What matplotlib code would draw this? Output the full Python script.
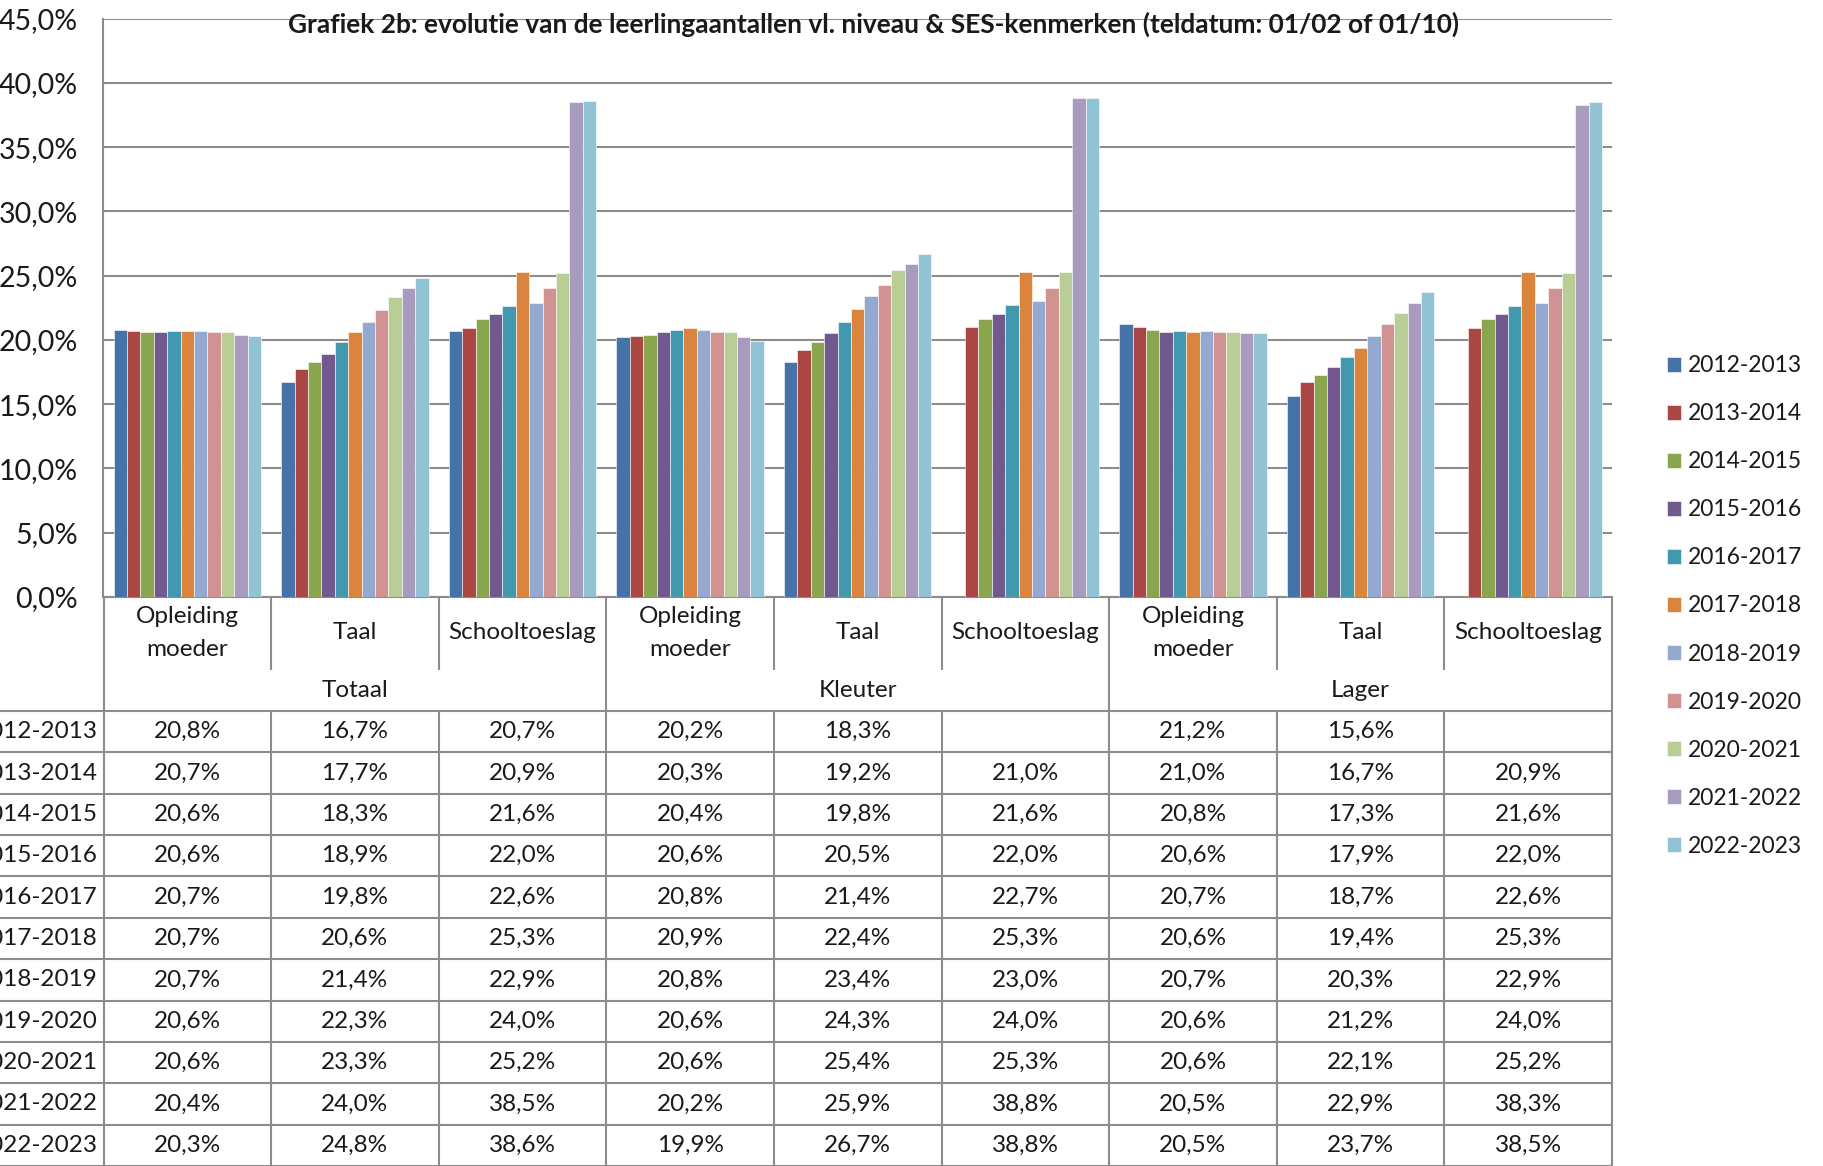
import numpy as np
import matplotlib
matplotlib.use("Agg")
import matplotlib.pyplot as plt
from matplotlib.lines import Line2D

plt.rcParams['font.family'] = ['Lato', 'DejaVu Sans']

# ---------------- data ----------------
title = "Grafiek 2b: evolutie van de leerlingaantallen vl. niveau & SES-kenmerken (teldatum: 01/02 of 01/10)"
categories = ["Opleiding\nmoeder", "Taal", "Schooltoeslag"] * 3
groups = ["Totaal", "Kleuter", "Lager"]
seasons = ["2012-2013", "2013-2014", "2014-2015", "2015-2016", "2016-2017", "2017-2018",
           "2018-2019", "2019-2020", "2020-2021", "2021-2022", "2022-2023"]
nan = np.nan
v2012 = [20.8, 16.7, 20.7, 20.2, 18.3, nan, 21.2, 15.6, nan]
v2013 = [20.7, 17.7, 20.9, 20.3, 19.2, 21.0, 21.0, 16.7, 20.9]
v2014 = [20.6, 18.3, 21.6, 20.4, 19.8, 21.6, 20.8, 17.3, 21.6]
v2015 = [20.6, 18.9, 22.0, 20.6, 20.5, 22.0, 20.6, 17.9, 22.0]
v2016 = [20.7, 19.8, 22.6, 20.8, 21.4, 22.7, 20.7, 18.7, 22.6]
v2017 = [20.7, 20.6, 25.3, 20.9, 22.4, 25.3, 20.6, 19.4, 25.3]
v2018 = [20.7, 21.4, 22.9, 20.8, 23.4, 23.0, 20.7, 20.3, 22.9]
v2019 = [20.6, 22.3, 24.0, 20.6, 24.3, 24.0, 20.6, 21.2, 24.0]
v2020 = [20.6, 23.3, 25.2, 20.6, 25.4, 25.3, 20.6, 22.1, 25.2]
v2021 = [20.4, 24.0, 38.5, 20.2, 25.9, 38.8, 20.5, 22.9, 38.3]
v2022 = [20.3, 24.8, 38.6, 19.9, 26.7, 38.8, 20.5, 23.7, 38.5]
series = [v2012, v2013, v2014, v2015, v2016, v2017, v2018, v2019, v2020, v2021, v2022]
colors = ["#4572A7", "#AA4643", "#89A54E", "#71588F", "#4198AF", "#DB843D",
          "#93A9CF", "#D19392", "#B9CD96", "#A99BBD", "#92C3D4"]
yticks = [0, 5, 10, 15, 20, 25, 30, 35, 40, 45]

# ---------------- layout (pixels) ----------------
W, H = 1824, 1166
L, R, T, B = 103.5, 1612, 18.6, 596.8
CAT_BOTTOM, GRP_BOTTOM = 670, 711
ROW_H = (H - GRP_BOTTOM) / 11.0
GRID = "#8c8c8c"
FS = 17.5
LFS = 16.5

fig = plt.figure(figsize=(W / 100, H / 100), dpi=100)
ax = fig.add_axes([L / W, 1 - B / H, (R - L) / W, (B - T) / H])

n_cat = len(categories)
n_ser = len(series)
bw = 1.0 / (n_ser + 1.5)
x = np.arange(n_cat)
handles = []
for j, (vals, col, lab) in enumerate(zip(series, colors, seasons)):
    offs = (j - (n_ser - 1) / 2) * bw
    b = ax.bar(x + offs, vals, width=bw, color=col, edgecolor="white", linewidth=0.4,
               label=lab, zorder=3)
    handles.append(b)

ax.set_xlim(-0.5, n_cat - 0.5)
ax.set_ylim(0, 45)
ax.set_yticks(yticks)
ax.set_yticklabels([f"{t:.1f}%".replace(".", ",") for t in yticks], fontsize=20.5,
                   color="#1a1a1a")
ax.set_xticks([])
ax.yaxis.grid(True, color=GRID, linewidth=1.5, zorder=0)
ax.tick_params(axis='y', length=0, pad=18.4)
for s in ["top", "right"]:
    ax.spines[s].set_visible(False)
for s in ["left", "bottom"]:
    ax.spines[s].set_color(GRID)
    ax.spines[s].set_linewidth(1.5)

fig.text(874 / W, 1 - 24 / H, title, ha="center", va="center", fontsize=18.9,
         fontweight="bold", color="#1a1a1a")

# ---------------- table ----------------
tax = fig.add_axes([L / W, 0, (R - L) / W, 1 - B / H])
tax.set_xlim(-0.5, n_cat - 0.5)
tax.set_ylim(H, B)
tax.axis("off")
catw_px = (R - L) / n_cat
x_fig_left = -0.5 - L / catw_px

def line(xs, ys):
    tax.add_line(Line2D(xs, ys, color=GRID, linewidth=1.5, clip_on=False,
                        solid_capstyle="butt"))

bounds = np.arange(n_cat + 1) - 0.5
for k, bx in enumerate(bounds):
    if k % 3 == 0:
        line([bx, bx], [B, H + 5])
    else:
        line([bx, bx], [B, CAT_BOTTOM])
        line([bx, bx], [GRP_BOTTOM, H + 5])
for r in range(12):
    yy = GRP_BOTTOM + r * ROW_H
    line([x_fig_left, n_cat - 0.5], [yy, yy])

for i, c in enumerate(categories):
    tax.text(i, 633, c, ha="center", va="center", fontsize=FS, linespacing=1.65,
             color="#1a1a1a")
for g, name in enumerate(groups):
    tax.text(3 * g + 1, (CAT_BOTTOM + GRP_BOTTOM) / 2, name, ha="center", va="center",
             fontsize=FS, color="#1a1a1a")
for r, (lab, vals) in enumerate(zip(seasons, series)):
    yc = GRP_BOTTOM + (r + 0.5) * ROW_H
    tax.text(-0.5 - 6 / catw_px, yc, lab, ha="right", va="center", fontsize=FS,
             color="#1a1a1a", clip_on=False)
    for i, v in enumerate(vals):
        if not np.isnan(v):
            tax.text(i, yc, f"{v:.1f}%".replace(".", ","), ha="center", va="center",
                     fontsize=FS, color="#1a1a1a")

# ---------------- legend ----------------
px = LFS * 100 / 72
fig.legend(handles=handles, labels=seasons, loc="center left",
           bbox_to_anchor=(1667 / W, 1 - 606 / H), frameon=False, fontsize=LFS,
           handlelength=14 / px, handleheight=14 / px, handletextpad=7 / px,
           labelspacing=1.18, borderpad=0, borderaxespad=0, labelcolor="#1a1a1a")

fig.savefig("out.png", dpi=100)
